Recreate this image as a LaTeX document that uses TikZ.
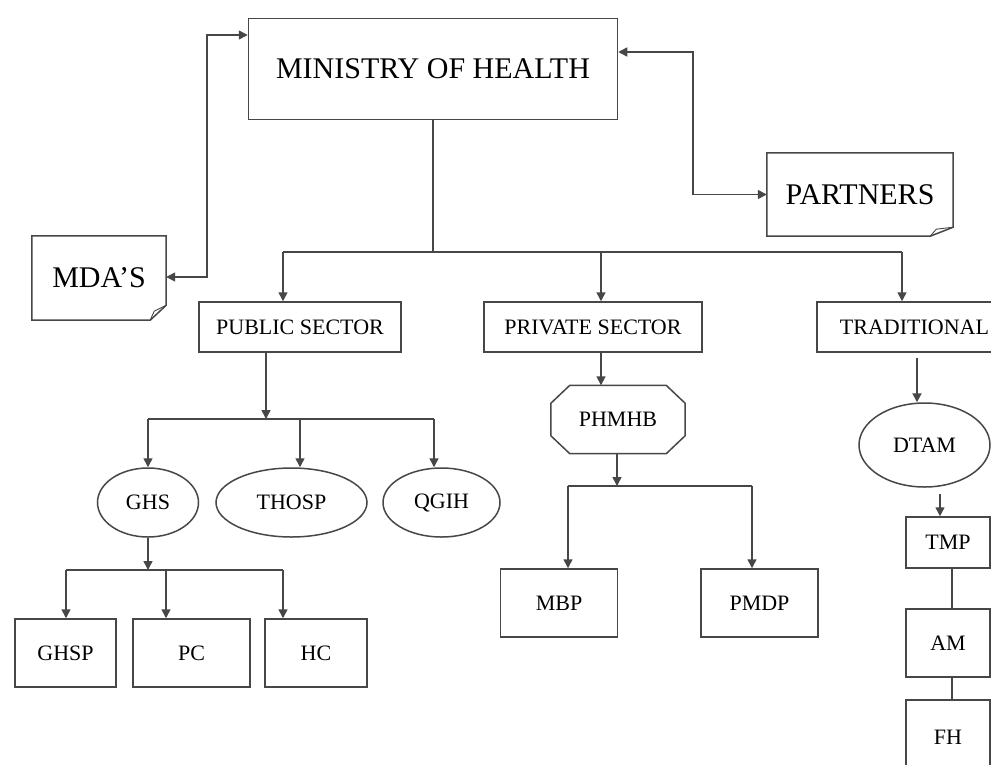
\documentclass[tikz,border=0pt]{standalone}
\usepackage{fontspec}
\setmainfont{Liberation Serif}
\usetikzlibrary{arrows.meta,shapes.geometric,calc}
\begin{document}
\begin{tikzpicture}[x=1pt,y=-1pt,
  ln/.style={line width=1.5pt,draw=black!72},
  arr/.style={ln,-{Triangle[length=9pt,width=9pt]}},
  darr/.style={ln,{Triangle[length=9pt,width=9pt]}-{Triangle[length=9pt,width=9pt]}},
  lab/.style={inner sep=0pt,font=\fontsize{22}{22}\selectfont},
  big/.style={inner sep=0pt,font=\fontsize{30}{30}\selectfont},
  box/.style={lab,ln,rectangle},
  ell/.style={lab,ln,ellipse},
  ]
\useasboundingbox (0,0) rectangle (991,764);
\clip (0,0) rectangle (991,764);
\fill[white] (0,0) rectangle (991,764);

% top level
\node[big,ln,rectangle,minimum width=369,minimum height=101] (moh) at (433,69) {MINISTRY OF HEALTH};
\node[big,minimum width=134,minimum height=84] (mda) at (99,278) {MDA’S};
\node[big,minimum width=186,minimum height=83] (partners) at (860,194.5) {PARTNERS};

% document shapes
\draw[ln] (mda.north west) -- (mda.north east) -- ($(mda.south east)+(0,-15)$) -- ($(mda.south east)+(-16,0)$) -- (mda.south west) -- cycle;
\draw[ln,line width=0.9pt] ($(mda.south east)+(-16,0)$) -- ($(mda.south east)+(-12,-9)$) -- ($(mda.south east)+(0,-15)$);
\draw[ln] (partners.north west) -- (partners.north east) -- ($(partners.south east)+(0,-9)$) -- ($(partners.south east)+(-23,0)$) -- (partners.south west) -- cycle;
\draw[ln,line width=0.9pt] ($(partners.south east)+(-23,0)$) -- ($(partners.south east)+(-17,-7)$) -- ($(partners.south east)+(0,-9)$);

% side links
\coordinate (mdaj) at (207,35);
\coordinate (parj) at (693,52);
\draw[darr] (mda.east |- 0,277) -- (mdaj |- 0,277) -- (mdaj) -- (mdaj -| moh.west);
\draw[darr] (parj -| moh.east) -- (parj) -- (parj |- partners.west) -- (partners.west);

% sectors
\node[box,minimum width=202,minimum height=50] (pub) at (300,327) {PUBLIC SECTOR};
\node[box,minimum width=218,minimum height=50] (priv) at (593,327) {PRIVATE SECTOR};
\node[box,minimum width=195,minimum height=50] (trad) at (914.5,327) {TRADITIONAL};

\coordinate (j1) at (433,252);
\coordinate (bl) at (283,252);
\coordinate (bm) at (601,252);
\coordinate (br) at (902,252);
\draw[ln] (moh.south) -- (j1);
\draw[ln] (bl) -- (br);
\draw[arr] (bl) -- (bl |- pub.north);
\draw[arr] (bm) -- (bm |- priv.north);
\draw[arr] (br) -- (br |- trad.north);

% public branch
\node[ell,minimum width=101,minimum height=69] (ghs) at (148,502.5) {GHS};
\node[ell,minimum width=151,minimum height=69] (thosp) at (291.5,502.5) {THOSP};
\node[ell,minimum width=117,minimum height=69] (qgih) at (441.5,502.5) {QGIH};
\coordinate (pj) at (266,419);
\coordinate (pb1) at (148,419);
\coordinate (pb2) at (300,419);
\coordinate (pb3) at (434,419);
\draw[arr] (pj |- pub.south) -- (pj);
\draw[ln] (pb1) -- (pb3);
\draw[arr] (pb1) -- (ghs.north);
\draw[arr] (pb2) -- (pb2 |- thosp.north);
\draw[arr] (pb3) -- (pb3 |- qgih.north);

\node[box,minimum width=101,minimum height=68] (ghsp) at (65.5,653) {GHSP};
\node[box,minimum width=117,minimum height=68] (pc) at (191.5,653) {PC};
\node[box,minimum width=102,minimum height=68] (hc) at (316,653) {HC};
\coordinate (gj) at (148,570);
\coordinate (gb1) at (66,570);
\coordinate (gb2) at (166,570);
\coordinate (gb3) at (283,570);
\draw[arr] (ghs.south) -- (gj);
\draw[ln] (gb1) -- (gb3);
\draw[arr] (gb1) -- (gb1 |- ghsp.north);
\draw[arr] (gb2) -- (gb2 |- pc.north);
\draw[arr] (gb3) -- (gb3 |- hc.north);

% private branch
\node[lab,minimum width=134,minimum height=68] (phmhb) at (618,419.5) {PHMHB};
\draw[ln] ($(phmhb.north west)+(19,0)$) -- ($(phmhb.north east)+(-19,0)$) -- ($(phmhb.north east)+(0,18)$) -- ($(phmhb.south east)+(0,-18)$) -- ($(phmhb.south east)+(-19,0)$) -- ($(phmhb.south west)+(19,0)$) -- ($(phmhb.south west)+(0,-18)$) -- ($(phmhb.north west)+(0,18)$) -- cycle;
\draw[arr] (bm |- priv.south) -- (bm |- phmhb.north);
\node[box,minimum width=117,minimum height=68] (mbp) at (559,603) {MBP};
\node[box,minimum width=117,minimum height=68] (pmdp) at (759.5,603) {PMDP};
\coordinate (vj) at (617,486);
\coordinate (vb1) at (568,486);
\coordinate (vb2) at (752,486);
\draw[arr] (vj |- phmhb.south) -- (vj);
\draw[ln] (vb1) -- (vb2);
\draw[arr] (vb1) -- (vb1 |- mbp.north);
\draw[arr] (vb2) -- (vb2 |- pmdp.north);

% traditional branch
\node[ell,minimum width=131,minimum height=84] (dtam) at (924.5,445) {DTAM};
\node[box,minimum width=84,minimum height=51] (tmp) at (948,542.5) {TMP};
\node[box,minimum width=84,minimum height=68] (am) at (948,643) {AM};
\node[box,minimum width=84,minimum height=74] (fh) at (948,737) {FH};
\coordinate (t0) at (917,358);
\coordinate (d0) at (940,494);
\coordinate (vl) at (952,600);
\draw[arr,line width=2pt] (t0) -- (t0 |- dtam.north);
\draw[arr] (d0) -- (d0 |- tmp.north);
\draw[ln] (vl |- tmp.south) -- (vl |- am.north);
\draw[ln] (vl |- am.south) -- (vl |- fh.north);
\end{tikzpicture}
\end{document}
